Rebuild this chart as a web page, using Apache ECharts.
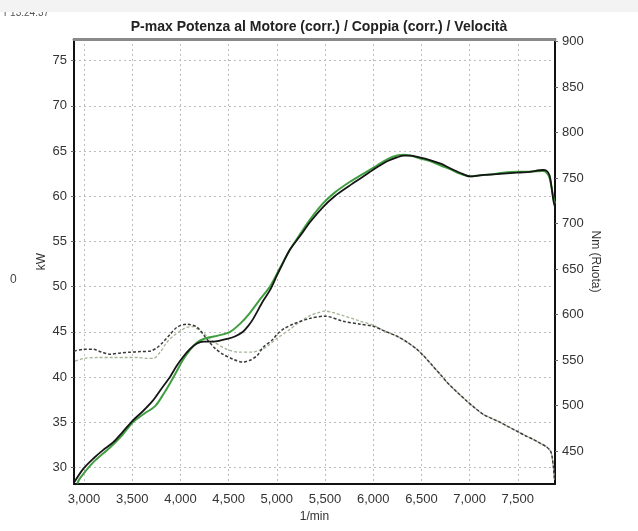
<!DOCTYPE html>
<html>
<head>
<meta charset="utf-8">
<script src="https://cdn.jsdelivr.net/npm/echarts@6/dist/echarts.min.js"></script>
<style>
html,body{margin:0;padding:0;background:#fff;}
#chart{width:638px;height:531px;}
</style>
</head>
<body>
<div id="chart"></div>
<script>
// ---- data (rpm, value) ----
const powerRun1 = [[2896,28.3],[2990,29.8],[3100,31.0],[3197,31.9],[3301,32.75],[3400,33.9],[3508,35.2],[3610,36.2],[3716,37.4],[3810,38.8],[3892,40.0],[3960,41.2],[4027,42.2],[4100,43.1],[4172,43.7],[4240,43.9],[4307,43.9],[4400,44.0],[4483,44.2],[4570,44.5],[4649,45.0],[4700,45.6],[4753,46.4],[4857,48.4],[4929,49.6],[5000,51.2],[5064,52.6],[5137,54.1],[5241,55.6],[5350,57.2],[5479,58.8],[5600,60.0],[5759,61.2],[5900,62.2],[6039,63.2],[6150,63.9],[6247,64.3],[6320,64.5],[6382,64.5],[6480,64.3],[6589,64.0],[6700,63.6],[6797,63.1],[6900,62.6],[7004,62.2],[7100,62.3],[7212,62.4],[7350,62.5],[7492,62.6],[7620,62.7],[7761,62.9],[7800,62.8],[7830,62.3],[7850,61.0],[7870,59.5],[7886,58.8]];
const powerRun2 = [[2930,28.2],[2959,28.8],[3100,30.6],[3270,32.2],[3400,33.6],[3508,35.0],[3620,35.9],[3740,36.8],[3830,38.2],[3892,39.3],[3960,40.6],[4027,41.9],[4100,43.0],[4172,43.8],[4240,44.2],[4307,44.4],[4400,44.6],[4515,45.0],[4620,45.9],[4722,47.1],[4820,48.5],[4929,50.0],[5030,52.0],[5137,54.1],[5241,55.8],[5350,57.5],[5479,59.2],[5600,60.4],[5759,61.6],[5900,62.5],[6039,63.4],[6150,64.1],[6247,64.5],[6320,64.6],[6382,64.5],[6480,64.2],[6589,63.9],[6700,63.4],[6797,63.0],[6900,62.5],[7004,62.2],[7100,62.3],[7212,62.4],[7350,62.6],[7492,62.7],[7620,62.7],[7761,62.8],[7800,62.6],[7830,62.0],[7850,61.0],[7870,59.8],[7886,59.2]];
const torqueRun1 = [[2896,560],[2990,562],[3093,562],[3180,559],[3270,556.6],[3380,558],[3477,558.8],[3585,559.5],[3685,560],[3760,564],[3819,569.8],[3890,578],[3965,586.3],[4068,589.6],[4172,586.3],[4276,573],[4360,563],[4442,556.6],[4550,551],[4649,548],[4722,550],[4795,555],[4857,564],[4961,573],[5002,578.6],[5080,585],[5168,589.6],[5344,596],[5500,598.4],[5687,592.9],[5863,589.6],[5998,587.4],[6120,582],[6247,576.4],[6350,570],[6454,562],[6540,553],[6620,543.4],[6700,534],[6765,525.8],[6870,515],[6973,505],[7050,498],[7139,490.7],[7230,486],[7315,481.9],[7400,477],[7492,472],[7580,467],[7658,463.2],[7730,459],[7803,454.4],[7840,450],[7855,444.5],[7870,432],[7880,419]];
const torqueRun2 = [[2907,549],[3000,552],[3135,553],[3300,553],[3450,553],[3550,553],[3650,552],[3720,552],[3790,559],[3861,570],[3930,577],[3996,582],[4060,586],[4131,587],[4180,584],[4234,580],[4350,570],[4483,562],[4600,559],[4753,559],[4820,561],[4898,565],[5000,574],[5137,584],[5250,593],[5344,599],[5420,602],[5500,604],[5600,602],[5687,599],[5780,596],[5863,593],[5998,588.5],[6120,582],[6247,576.4],[6350,570],[6454,562],[6540,553],[6620,543.4],[6700,534],[6765,525.8],[6870,515],[6973,505],[7050,498],[7139,490.7],[7230,486],[7315,481.9],[7400,477],[7492,472],[7580,467],[7658,463.2],[7730,459],[7803,454.4],[7840,450],[7855,444.5],[7870,432],[7880,419]];

const titleText = 'P-max Potenza al Motore (corr.) / Coppia (corr.) / Velocità';
const xName = '1/min';
const yLeftName = 'kW';
const yRightName = 'Nm (Ruota)';

const FONT = 'Liberation Sans';
const fmtThousands = v => String(Math.round(v)).replace(/\B(?=(\d{3})+(?!\d))/g, ',');

const chart = echarts.init(document.getElementById('chart'), null, {renderer:'canvas'});
chart.setOption({
  animation: false,
  backgroundColor: '#fff',
  title: {
    text: titleText, left: 'center', top: 15,
    textStyle: {fontFamily: FONT, fontSize: 14, fontWeight: 'bold', color: '#222'}
  },
  graphic: [
    {type:'text', left: 4, top: 8, z: 1, style:{text:'r 13:24:37', fontFamily: FONT, fontSize: 10, fill:'#555'}},
    {type:'rect', shape:{x:0,y:0,width:638,height:12}, z: 2, style:{fill:'#f3f3f3'}},
    {type:'text', left: 10, top: 274, style:{text:'0', fontFamily: FONT, fontSize: 12, fill:'#444'}}
  ],
  grid: {left: 74, right: 83, top: 39, bottom: 47, containLabel: false},
  xAxis: [{
    type: 'value', min: 2896, max: 7886, minInterval: 500, maxInterval: 500, position: 'bottom',
    name: xName, nameLocation: 'middle', nameGap: 24,
    nameTextStyle: {fontFamily: FONT, fontSize: 12, color: '#333'},
    axisLine: {show: true, lineStyle: {color: '#111', width: 2}},
    axisTick: {show: false},
    axisLabel: {showMinLabel: false, showMaxLabel: false, formatter: fmtThousands, margin: 9,
      fontFamily: FONT, fontSize: 13, color: '#333'},
    splitLine: {show: true, lineStyle: {color: '#bdbdbd', width: 1, type: [2,3]}}
  }, {
    type: 'value', min: 2896, max: 7886, position: 'top',
    axisLine: {show: true, onZero: false, lineStyle: {color: '#8a8a8a', width: 3}},
    axisTick: {show: false}, axisLabel: {show: false}, splitLine: {show: false}
  }],
  yAxis: [{
    type: 'value', min: 28.15, max: 77.4, minInterval: 5, maxInterval: 5, position: 'left',
    name: yLeftName, nameLocation: 'middle', nameGap: 26, nameRotate: 90, nameMoveOverlap: false,
    nameTextStyle: {fontFamily: FONT, fontSize: 12, color: '#333'},
    axisLine: {show: true, onZero: false, lineStyle: {color: '#111', width: 2}},
    axisTick: {show: true, length: 3, lineStyle: {color: '#666'}},
    axisLabel: {showMinLabel: false, showMaxLabel: false, margin: 7,
      fontFamily: FONT, fontSize: 13, color: '#333'},
    splitLine: {show: true, lineStyle: {color: '#bdbdbd', width: 1, type: [2,3]}}
  }, {
    type: 'value', min: 414, max: 903, minInterval: 50, maxInterval: 50, position: 'right',
    name: yRightName, nameLocation: 'middle', nameGap: 34, nameRotate: -90, nameMoveOverlap: false,
    nameTextStyle: {fontFamily: FONT, fontSize: 12, color: '#333'},
    axisLine: {show: true, onZero: false, lineStyle: {color: '#111', width: 2}},
    axisTick: {show: true, length: 3, lineStyle: {color: '#666'}},
    axisLabel: {showMinLabel: false, showMaxLabel: false, margin: 7,
      fontFamily: FONT, fontSize: 13, color: '#333'},
    splitLine: {show: false}
  }],
  series: [
    {type:'line', name:'Coppia 2', yAxisIndex:1, data: torqueRun2, showSymbol:false, smooth:0.3,
      lineStyle:{color:'#a3b394', width:1.3, type:[3,2]}},
    {type:'line', name:'Coppia 1', yAxisIndex:1, data: torqueRun1, showSymbol:false, smooth:0.3,
      lineStyle:{color:'#3a3a3a', width:1.5, type:[3,2]}},
    {type:'line', name:'Potenza 2', data: powerRun2, showSymbol:false, smooth:0.3,
      lineStyle:{color:'#3f9e3f', width:2}},
    {type:'line', name:'Potenza 1', data: powerRun1, showSymbol:false, smooth:0.3,
      lineStyle:{color:'#151515', width:1.8}}
  ]
});
</script>
</body>
</html>
